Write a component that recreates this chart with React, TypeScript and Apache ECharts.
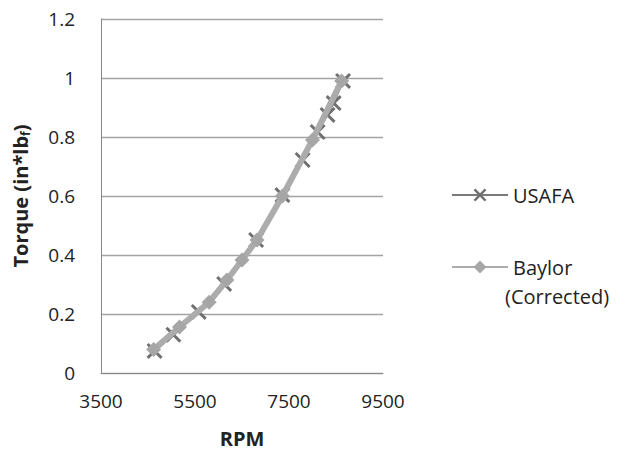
import React, { useEffect, useRef } from "react";
import * as echarts from "echarts";

const usafaRpm = [4640, 5040, 5580, 6120, 6800, 7360, 7790, 8110, 8320, 8450, 8650];
const usafaTorque = [0.075, 0.13, 0.207, 0.302, 0.451, 0.603, 0.722, 0.817, 0.875, 0.915, 0.99];
const baylorRpm = [4620, 5170, 5800, 6180, 6500, 6820, 7360, 8000, 8620];
const baylorTorque = [0.08, 0.156, 0.24, 0.315, 0.383, 0.451, 0.6, 0.79, 0.99];
const xTicks = [3500, 5500, 7500, 9500];
const yTicks = [0, 0.2, 0.4, 0.6, 0.8, 1, 1.2];

const FONT = "Open Sans";
const X_PATH = "path://M1.3,0 L5,3.7 L8.7,0 L10,1.3 L6.3,5 L10,8.7 L8.7,10 L5,6.3 L1.3,10 L0,8.7 L3.7,5 L0,1.3 Z";

export default function App() {
  const ref = useRef<HTMLDivElement>(null);
  useEffect(() => {
    const chart = echarts.init(ref.current!, null, { renderer: "svg" });
    chart.setOption({
      animation: false,
      backgroundColor: "#ffffff",
      grid: { left: 101, right: 242, top: 19, bottom: 83 },
      xAxis: {
        type: "value",
        min: xTicks[0],
        max: xTicks[xTicks.length - 1],
        interval: 2000,
        name: "RPM",
        nameLocation: "middle",
        nameGap: 55,
        nameTextStyle: { fontFamily: FONT, fontSize: 20, fontWeight: "bold", color: "#222" },
        axisLine: { show: true, lineStyle: { color: "#888", width: 1 } },
        axisTick: { show: false },
        splitLine: { show: false },
        axisLabel: { fontFamily: FONT, fontSize: 19, color: "#222", margin: 18, formatter: (v: number) => String(v) },
      },
      yAxis: {
        type: "value",
        min: yTicks[0],
        max: yTicks[yTicks.length - 1],
        interval: 0.2,
        name: "{t|Torque (in*lb}{s|f}{t|)}",
        nameLocation: "middle",
        nameGap: 70,
        nameTextStyle: {
          rich: {
            t: { fontFamily: FONT, fontSize: 20, fontWeight: "bold", color: "#222" },
            s: { fontFamily: FONT, fontSize: 12, fontWeight: "bold", color: "#222", verticalAlign: "bottom", padding: [10, 0, 0, 0] },
          },
        },
        axisLine: { show: true, lineStyle: { color: "#888", width: 1 } },
        axisTick: { show: false },
        splitLine: { show: true, lineStyle: { color: "#a3a3a3", width: 1.3 } },
        axisLabel: { fontFamily: FONT, fontSize: 19, color: "#222", margin: 26, formatter: (v: number) => String(Math.round(v * 10) / 10) },
      },
      legend: [
        {
          data: ["USAFA"],
          left: 446,
          top: 180,
          itemWidth: 56,
          itemHeight: 16,
          itemGap: 3,
          textStyle: { fontFamily: FONT, fontSize: 20, color: "#222" },
        },
        {
          data: ["Baylor"],
          left: 446,
          top: 251,
          itemWidth: 56,
          itemHeight: 16,
          itemGap: 7,
          padding: [5, 5, 0, 5],
          textStyle: { fontFamily: FONT, fontSize: 20, color: "#222", lineHeight: 22 },
        },
      ],
      graphic: [
        {
          type: "text",
          left: 505,
          top: 286,
          style: { text: "(Corrected)", font: `20px "${FONT}"`, fill: "#222" },
        },
      ],
      series: [
        {
          name: "Baylor",
          type: "line",
          data: baylorRpm.map((r, i) => [r, baylorTorque[i]]),
          lineStyle: { color: "#acacac", width: 6 },
          itemStyle: { color: "#a6a6a6" },
          symbol: "diamond",
          symbolSize: 15,
          z: 3,
        },
        {
          name: "USAFA",
          type: "line",
          data: usafaRpm.map((r, i) => [r, usafaTorque[i]]),
          lineStyle: { color: "#7a7a7a", width: 2 },
          itemStyle: { color: "#707070" },
          symbol: X_PATH,
          symbolSize: 16,
          z: 2,
        },
      ],
    });
    return () => chart.dispose();
  }, []);
  return <div ref={ref} style={{ width: 625, height: 456, margin: -8 }} />;
}
